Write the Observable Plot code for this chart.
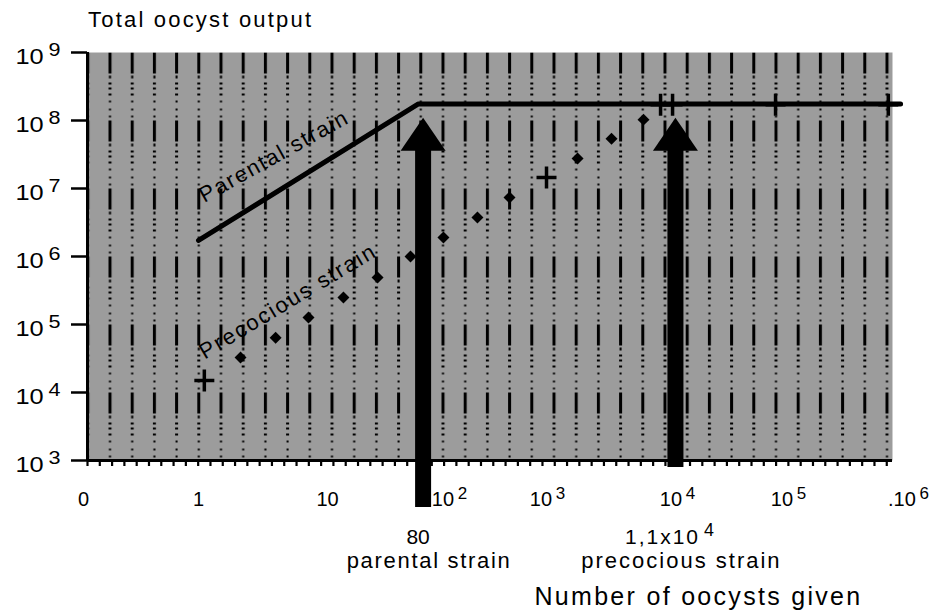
<!DOCTYPE html>
<html>
<head>
<meta charset="utf-8">
<script src="https://cdn.jsdelivr.net/npm/d3@7"></script>
<script src="https://cdn.jsdelivr.net/npm/@observablehq/plot@0.6"></script>
<style>
  html, body { margin: 0; padding: 0; background: #fff; }
  #title { box-sizing: border-box; height: 40px; padding: 9px 0 0 88px; font: 22px/22px "Liberation Sans", Arial, sans-serif; letter-spacing: 2.2px; color: #000; }
  #chart svg { display: block; }
</style>
</head>
<body>
<div id="title">Total oocyst output</div>
<div id="chart"></div>
<script>
// ---- data ----
const xDomain = [0.1146, 7.6e5];          // left edge labelled "0" … right edge
const yDomain = [1e3, 1e9];

const parentalDose   = [1, 73, 8.9e5];
const parentalOutput = [1.72e6, 1.75e8, 1.75e8];

const precociousDose   = [1.12, 2.27, 4.5, 8.55, 16.9, 32.9, 62.6, 119, 231, 432, 889, 1630, 3160, 5900, 8230, 10400, 77600, 700000];
const precociousOutput = [1.5e4, 3.27e4, 6.4e4, 1.27e5, 2.5e5, 4.9e5, 1.0e6, 1.9e6, 3.75e6, 7.4e6, 1.45e7, 2.76e7, 5.4e7, 1.03e8, 1.7e8, 1.7e8, 1.7e8, 1.7e8];
const precociousMarker = ["cross","diamond","diamond","diamond","diamond","diamond","diamond","diamond","diamond","diamond","cross","diamond","diamond","diamond","cross","cross","cross","cross"];

const arrowDose     = [80, 1.1e4];
const arrowTip      = [1.1e8, 1.1e8];
const arrowHeadBase = [4.0e7, 4.0e7];
const arrowTail     = [204, 790];
const arrowValueLabel  = ["80", "1,1x10^4"];
const arrowStrainLabel = ["parental strain", "precocious strain"];

const yTicks      = [1e3, 1e4, 1e5, 1e6, 1e7, 1e8, 1e9];
const yTickLabels = ["10^3", "10^4", "10^5", "10^6", "10^7", "10^8", "10^9"];
const xTicks      = [0.1146, 1, 10, 100, 1e3, 1e4, 1e5, 1e6];
const xTickLabels = ["0", "1", "10", "10^2", "10^3", "10^4", "10^5", ".10^6"];
const xLabelNudge = [-4, 0, 11, 15, -5, 7, 0, 2];

const curveLabels = [
  {text: "Parental strain",   dose: 4.67, output: 2.41e7, angle: -29},
  {text: "Precocious strain", dose: 6.14, output: 1.78e5, angle: -31}
];

(function () {
const parental   = parentalDose.map((d, i) => ({dose: d, output: parentalOutput[i]}));
const precocious = precociousDose.map((d, i) => ({dose: d, output: precociousOutput[i], marker: precociousMarker[i]}));
const arrows     = arrowDose.map((d, i) => ({dose: d, tip: arrowTip[i], base: arrowHeadBase[i], tail: arrowTail[i], value: arrowValueLabel[i], strain: arrowStrainLabel[i]}));

const minorTicks = d3.range(Math.log10(xDomain[0]), Math.log10(xDomain[1]) + 1e-9, 0.1042).map(e => 10 ** e);

const crossSymbol = {draw(ctx) { ctx.moveTo(-10, 0); ctx.lineTo(10, 0); ctx.moveTo(0, -11); ctx.lineTo(0, 11); }};
const headSymbol  = {draw(ctx) { ctx.moveTo(0, 0); ctx.lineTo(22.5, 33); ctx.lineTo(-22.5, 33); ctx.closePath(); }};

const font = '"Liberation Sans", Arial, Helvetica, sans-serif';

const plot = Plot.plot({
  width: 933, height: 576,
  marginLeft: 87, marginRight: 41, marginTop: 12, marginBottom: 156,
  x: {type: "log", domain: xDomain, axis: null, label: null},
  y: {type: "log", domain: yDomain, axis: null, label: null},
  style: {fontFamily: font, color: "#000", background: "#fff", overflow: "visible"},
  marks: [
    Plot.frame({fill: "url(#stipple)", stroke: "none"}),
    Plot.frame({fill: "url(#cols)", stroke: "none"}),
    Plot.axisX(minorTicks, {tickSize: 6, strokeWidth: 2.2, tickFormat: () => ""}),
    ...xTicks.map((v, i) => Plot.axisX([v], {tickSize: 0, tickPadding: 31, fontSize: 20, dx: xLabelNudge[i], tickFormat: () => xTickLabels[i]})),
    Plot.axisY(yTicks, {tickSize: 16, strokeWidth: 2.5, tickFormat: () => ""}),
    Plot.axisY(yTicks, {tickSize: 0, tickPadding: 27, fontSize: 22, dy: 4, tickFormat: d => yTickLabels[yTicks.indexOf(d)]}),
    Plot.ruleX([xDomain[0]], {strokeWidth: 3}),
    Plot.ruleY([yDomain[0]], {strokeWidth: 3}),
    Plot.line(parental, {x: "dose", y: "output", stroke: "#000", strokeWidth: 5}),
    Plot.dot(precocious.filter(d => d.marker === "diamond"), {x: "dose", y: "output", symbol: "diamond2", r: 5.4, fill: "#000"}),
    Plot.dot(precocious.filter(d => d.marker === "cross"), {x: "dose", y: "output", symbol: crossSymbol, stroke: "#000", strokeWidth: 3.5}),
    Plot.ruleX(arrows, {x: "dose", y1: "tail", y2: "base", strokeWidth: 16, stroke: "#000"}),
    Plot.dot(arrows, {x: "dose", y: "tip", symbol: headSymbol, fill: "#000", stroke: "none"}),
    ...curveLabels.map(c => Plot.text([c], {x: "dose", y: "output", text: "text", rotate: c.angle, fontSize: 22, lineAnchor: "bottom", fill: "#000"})),
    Plot.text(arrows, {x: "dose", text: "value", frameAnchor: "bottom", dy: 83, dx: -5, lineAnchor: "bottom", fontSize: 21}),
    Plot.text(arrows, {x: "dose", text: "strain", frameAnchor: "bottom", dy: 107, dx: 6, lineAnchor: "bottom", fontSize: 22}),
    Plot.text(["Number of oocysts given"], {frameAnchor: "bottom-right", dx: -30, dy: 144, textAnchor: "end", lineAnchor: "bottom", fontSize: 25})
  ]
});

// ---- textures (stipple + halftone dashed columns) ----
const ns = "http://www.w3.org/2000/svg";
const xs = plot.scale("x"), ys = plot.scale("y");
const frameLeft = Math.min(...xs.range), frameTop = Math.min(...ys.range);
const defs = document.createElementNS(ns, "defs");
function el(name, attrs, parent) { const e = document.createElementNS(ns, name); for (const k in attrs) e.setAttribute(k, attrs[k]); parent.appendChild(e); return e; }
const st = el("pattern", {id: "stipple", patternUnits: "userSpaceOnUse", x: frameLeft, y: frameTop, width: 2, height: 2}, defs);
el("rect", {width: 2, height: 2, fill: "#fff"}, st);
el("rect", {x: 0, y: 0, width: 1, height: 1, fill: "#3a3a3a"}, st);
el("rect", {x: 1, y: 1, width: 1, height: 1, fill: "#3a3a3a"}, st);
const decade = Math.abs(ys.apply(1e8) - ys.apply(1e9));
const cols = el("pattern", {id: "cols", patternUnits: "userSpaceOnUse", x: frameLeft + 21, y: frameTop, width: 22.2, height: decade}, defs);
el("rect", {x: 0, y: 0, width: 3, height: 21, fill: "#000"}, cols);
el("rect", {x: 0.5, y: 23, width: 2, height: 3, fill: "#000"}, cols);
[30, 35, 41].forEach(y => el("rect", {x: 0, y, width: 3, height: 2, fill: "#000"}, cols));
[48, 56, 63].forEach(y => el("rect", {x: 0.5, y, width: 2, height: 2, fill: "#000"}, cols));
plot.insertBefore(defs, plot.firstChild);

// ---- typography: superscripts and spacing ----
plot.querySelectorAll("text").forEach(t => {
  const s = t.textContent;
  const isYLabel = t.getAttribute("text-anchor") === "end" || (t.parentNode && t.parentNode.getAttribute && t.parentNode.getAttribute("text-anchor") === "end");
  if (s.includes("^")) {
    const [a, b] = s.split("^");
    t.textContent = a;
    const ts = document.createElementNS(ns, "tspan");
    ts.setAttribute("font-size", "0.85em");
    ts.setAttribute("dy", "-0.42em");
    ts.setAttribute("dx", "0.22em");
    ts.textContent = b;
    t.appendChild(ts);
    if (isYLabel && yTickLabels.includes(s)) {
      t.setAttribute("textLength", "45");
      t.setAttribute("lengthAdjust", "spacingAndGlyphs");
    }
  }
  if (s === "parental strain" || s === "Parental strain") t.setAttribute("letter-spacing", "1.7");
  if (s === "precocious strain" || s === "Precocious strain") t.setAttribute("letter-spacing", "2");
  if (s.startsWith("1,1x10")) t.setAttribute("letter-spacing", "2");
  if (s === "Number of oocysts given") t.setAttribute("letter-spacing", "2.3");
});

document.getElementById("chart").appendChild(plot);
})();
</script>
</body>
</html>
